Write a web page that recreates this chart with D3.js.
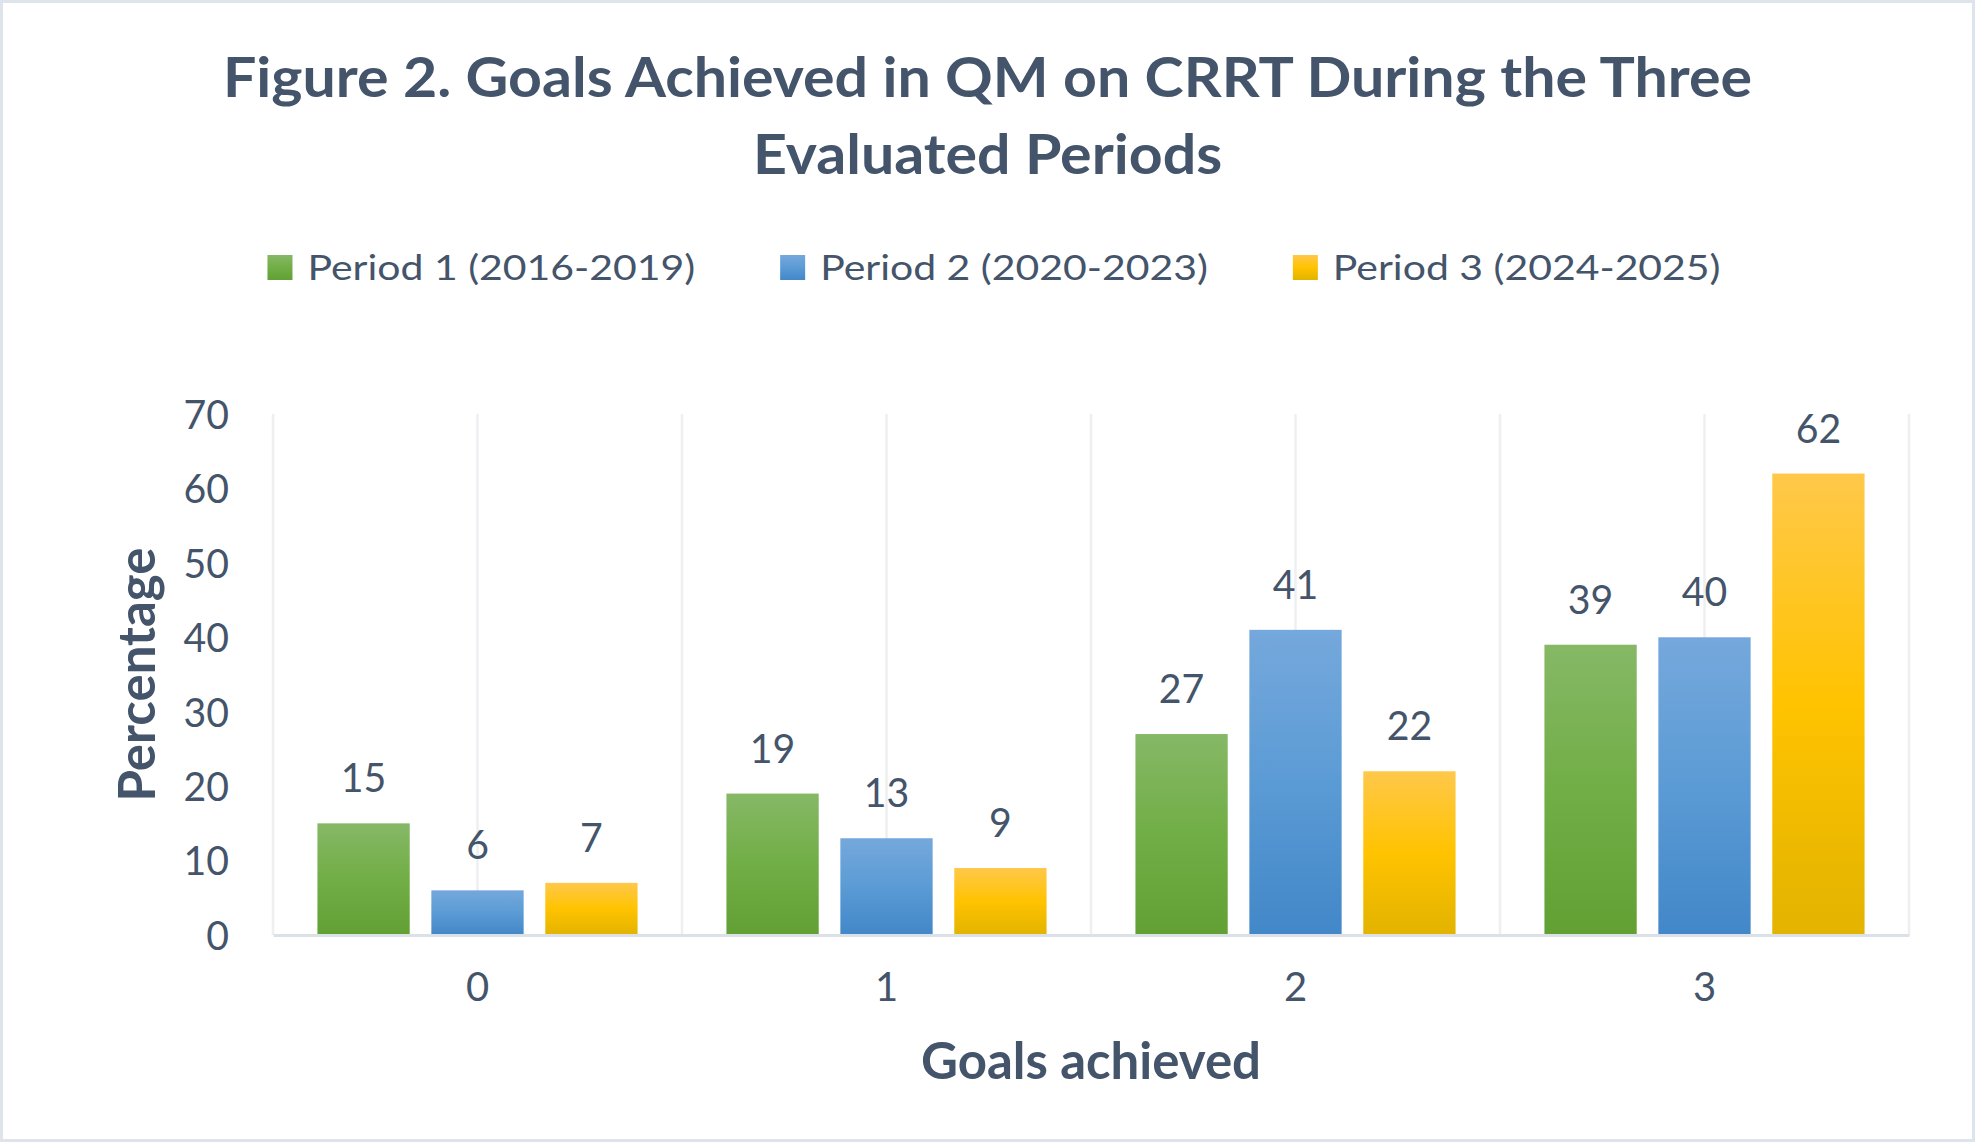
<!DOCTYPE html>
<html>
<head>
<meta charset="utf-8">
<script src="https://cdn.jsdelivr.net/npm/d3@7"></script>
<style>
body { margin: 0; background: #fff; }
text { font-family: Lato, "Open Sans", sans-serif; fill: #44546A; }
</style>
</head>
<body>
<div id="chart"></div>
<script>
// chart data
const categories = ['0', '1', '2', '3'];
const seriesNames = ['Period 1 (2016-2019)', 'Period 2 (2020-2023)', 'Period 3 (2024-2025)'];
const period1 = [15, 19, 27, 39];
const period2 = [6, 13, 41, 40];
const period3 = [7, 9, 22, 62];
const yTicks = [0, 10, 20, 30, 40, 50, 60, 70];
const titleLines = ['Figure 2. Goals Achieved in QM on CRRT During the Three', 'Evaluated Periods'];
const xTitle = 'Goals achieved';
const yTitle = 'Percentage';

const seriesValues = [period1, period2, period3];

// gradient fills (light top, base middle, darker bottom)
const fills = [
  ['#86B866', '#71AE46', '#62A034'],
  ['#75A8DC', '#5B9BD5', '#4287C8'],
  ['#FFC84A', '#FFC300', '#E2B300']
];

const width = 1975;
const height = 1142;
const margin = { top: 414, right: 66, bottom: 207, left: 273 };

// horizontal stretch so Lato fills the same width as the original lettering
const sxTitle = 1.055;
const sxLegend = 1.17;
const sxAxisTitle = 0.98;
const sxDigits = 0.98;

const svg = d3.select('#chart')
  .append('svg')
  .attr('width', width)
  .attr('height', height);

const defs = svg.append('defs');
fills.forEach((f, i) => {
  const g = defs.append('linearGradient')
    .attr('id', 'grad' + i)
    .attr('x1', 0).attr('y1', 0).attr('x2', 0).attr('y2', 1);
  g.append('stop').attr('offset', '0%').attr('stop-color', f[0]);
  g.append('stop').attr('offset', '50%').attr('stop-color', f[1]);
  g.append('stop').attr('offset', '100%').attr('stop-color', f[2]);
});

// chart border
svg.append('rect')
  .attr('x', 1.5).attr('y', 1.5)
  .attr('width', width - 3).attr('height', height - 3)
  .attr('fill', '#fff')
  .attr('stroke', '#DEE4EB')
  .attr('stroke-width', 3);

// scales
const x0 = d3.scaleBand()
  .domain(categories)
  .range([margin.left, width - margin.right]);

const x1 = d3.scaleBand()
  .domain(d3.range(seriesNames.length))
  .range([0, x0.bandwidth()])
  .paddingInner(0.19)
  .paddingOuter(0.39);

const y = d3.scaleLinear()
  .domain([0, 70])
  .range([height - margin.bottom, margin.top]);

// title
svg.selectAll('.title')
  .data(titleLines)
  .enter()
  .append('text')
  .attr('class', 'title')
  .attr('text-anchor', 'middle')
  .attr('transform', (d, i) => 'translate(' + (width / 2) + ',' + (97 + i * 77) + ') scale(' + sxTitle + ',1)')
  .style('font-size', '56px')
  .style('font-weight', 'bold')
  .text(d => d);

// legend
const legend = svg.append('g');
let lx = 0;
seriesNames.forEach((name, i) => {
  const item = legend.append('g').attr('transform', 'translate(' + lx + ',0)');
  item.append('rect')
    .attr('x', 0).attr('y', 255)
    .attr('width', 25).attr('height', 25)
    .attr('fill', 'url(#grad' + i + ')');
  const t = item.append('text')
    .attr('transform', 'translate(40,280) scale(' + sxLegend + ',1)')
    .style('font-size', '35px')
    .text(name);
  lx += 40 + t.node().getComputedTextLength() * sxLegend + 85;
});
const legendWidth = lx - 85;
legend.attr('transform', 'translate(' + (994 - legendWidth / 2) + ',0)');

// vertical gridlines at category edges and centres
const gridX = [];
categories.forEach(c => {
  gridX.push(x0(c));
  gridX.push(x0(c) + x0.bandwidth() / 2);
});
gridX.push(x0.range()[1]);

svg.append('g')
  .selectAll('line')
  .data(gridX)
  .enter()
  .append('line')
  .attr('x1', d => d).attr('x2', d => d)
  .attr('y1', y(70)).attr('y2', y(0))
  .attr('stroke', '#EEEFF1')
  .attr('stroke-width', 2.5);

// bars
const groups = svg.append('g')
  .selectAll('g')
  .data(categories)
  .enter()
  .append('g')
  .attr('transform', d => 'translate(' + x0(d) + ',0)');

groups.selectAll('rect')
  .data((c, ci) => seriesValues.map((vals, si) => ({ si: si, v: vals[ci] })))
  .enter()
  .append('rect')
  .attr('x', d => x1(d.si))
  .attr('y', d => y(d.v))
  .attr('width', x1.bandwidth())
  .attr('height', d => y(0) - y(d.v))
  .attr('fill', d => 'url(#grad' + d.si + ')');

// data labels
groups.selectAll('text')
  .data((c, ci) => seriesValues.map((vals, si) => ({ si: si, v: vals[ci] })))
  .enter()
  .append('text')
  .attr('text-anchor', 'middle')
  .attr('transform', d => 'translate(' + (x1(d.si) + x1.bandwidth() / 2) + ',' + (y(d.v) - 31) + ') scale(' + sxDigits + ',1)')
  .style('font-size', '40px')
  .text(d => d.v);

// y axis
const yAxis = d3.axisLeft(y).tickValues(yTicks).tickSize(0).tickPadding(44 / sxDigits);
const yg = svg.append('g')
  .attr('transform', 'translate(' + margin.left + ',0)')
  .call(yAxis);
yg.select('.domain').remove();
yg.selectAll('text')
  .attr('dy', '0.36em')
  .attr('transform', 'scale(' + sxDigits + ',1)')
  .style('font-size', '40px')
  .style('font-family', 'Lato, sans-serif')
  .attr('fill', '#44546A');

// x axis
const xAxis = d3.axisBottom(x0).tickSize(0).tickSizeOuter(0).tickPadding(38);
const xg = svg.append('g')
  .attr('transform', 'translate(0,' + y(0) + ')')
  .call(xAxis);
xg.select('.domain')
  .attr('stroke', '#DCE1E8')
  .attr('stroke-width', 3);
xg.selectAll('text')
  .attr('dy', '0.71em')
  .style('font-size', '40px')
  .style('font-family', 'Lato, sans-serif')
  .attr('fill', '#44546A');

// axis titles
svg.append('text')
  .attr('text-anchor', 'middle')
  .attr('transform', 'translate(' + ((x0.range()[0] + x0.range()[1]) / 2) + ',1079) scale(' + sxAxisTitle + ',1)')
  .style('font-size', '52px')
  .style('font-weight', 'bold')
  .text(xTitle);

svg.append('text')
  .attr('text-anchor', 'middle')
  .attr('transform', 'translate(155,' + ((y(0) + y(70)) / 2) + ') rotate(-90) scale(' + sxAxisTitle + ',1)')
  .style('font-size', '52px')
  .style('font-weight', 'bold')
  .text(yTitle);
</script>
</body>
</html>
